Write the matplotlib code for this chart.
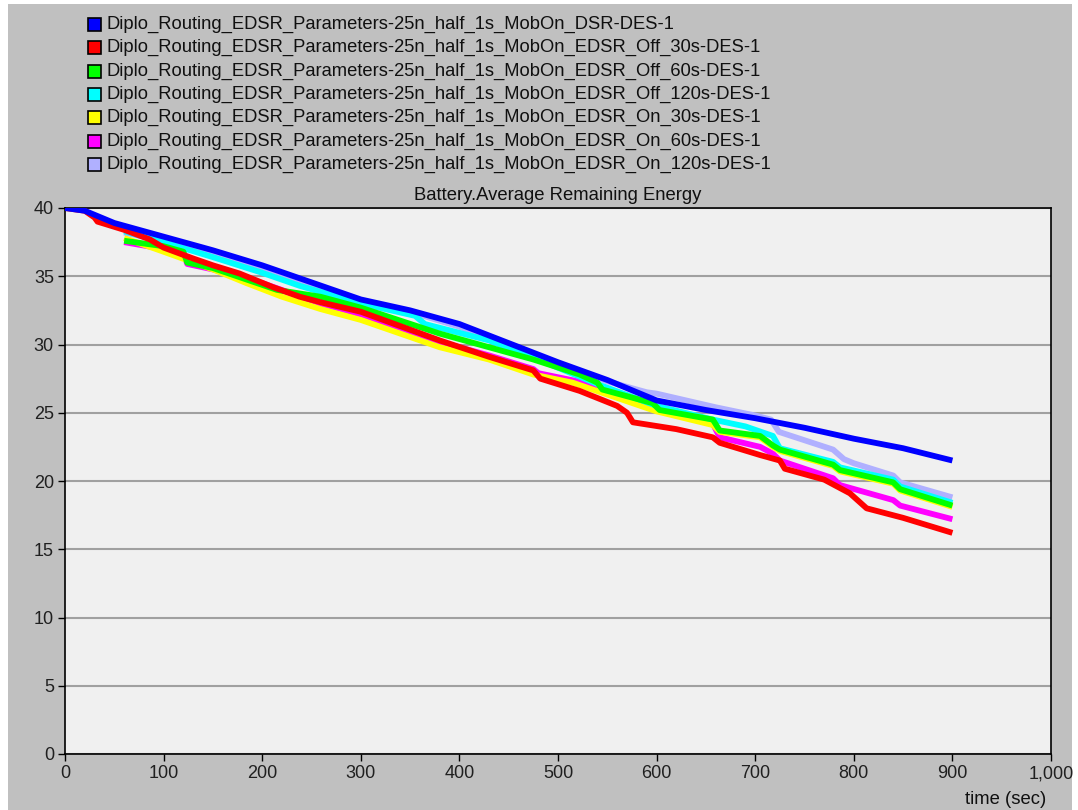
"""Battery average remaining energy, DSR vs. EDSR variants."""

import matplotlib

matplotlib.use("Agg")

import matplotlib.pyplot as plt
from matplotlib.patches import Rectangle
from matplotlib.ticker import FuncFormatter

plt.rcParams["font.family"] = ["Liberation Sans", "DejaVu Sans"]

PREFIX = "Diplo_Routing_EDSR_Parameters-25n_half_1s_MobOn_"

labels = [
    PREFIX + "DSR-DES-1",
    PREFIX + "EDSR_Off_30s-DES-1",
    PREFIX + "EDSR_Off_60s-DES-1",
    PREFIX + "EDSR_Off_120s-DES-1",
    PREFIX + "EDSR_On_30s-DES-1",
    PREFIX + "EDSR_On_60s-DES-1",
    PREFIX + "EDSR_On_120s-DES-1",
]
colors = ["#0000ff", "#ff0000", "#00ff00", "#00ffff", "#ffff00", "#ff00ff", "#b0b0ff"]

# series values (time in sec, energy)
dsr_t = [0, 20, 50, 100, 150, 200, 240, 300, 350, 400, 450, 500, 550, 600, 650, 700, 750, 800, 850, 900]
dsr_e = [40, 39.8, 38.9, 37.9, 36.9, 35.8, 34.8, 33.3, 32.5, 31.5, 30.1, 28.7, 27.4, 25.9, 25.2, 24.6, 23.9, 23.1, 22.4, 21.5]

off30_t = [0, 20, 30, 33, 60, 86, 100, 130, 150, 177, 211, 238, 259, 300, 380, 430, 475, 482, 522, 560, 570, 576,
           620, 657, 664, 705, 725, 730, 770, 796, 813, 850, 900]
off30_e = [40, 39.8, 39.3, 39.0, 38.4, 37.7, 37.1, 36.3, 35.8, 35.2, 34.2, 33.5, 33.1, 32.4, 30.3, 29.1, 28.1, 27.5,
           26.6, 25.5, 25.0, 24.3, 23.8, 23.2, 22.8, 21.9, 21.5, 20.9, 20.1, 19.1, 18.0, 17.3, 16.2]

off60_t = [60, 100, 120, 124, 150, 215, 259, 300, 380, 430, 475, 522, 540, 545, 596, 603, 657, 664, 705, 718, 725,
           779, 786, 840, 847, 900]
off60_e = [37.6, 37.2, 36.8, 36.0, 35.6, 34.0, 33.5, 32.7, 30.8, 29.8, 28.9, 27.8, 27.2, 26.7, 25.7, 25.2, 24.5, 23.7,
           23.3, 22.6, 22.3, 21.2, 20.8, 19.9, 19.4, 18.2]

off120_t = [60, 100, 150, 198, 238, 300, 355, 365, 430, 480, 540, 600, 657, 690, 718, 725, 779, 786, 840, 847, 900]
off120_e = [38.3, 37.5, 36.4, 35.3, 34.3, 33.0, 32.1, 31.5, 30.3, 28.9, 27.1, 25.5, 24.5, 24.0, 23.3, 22.4, 21.4, 21.0,
            20.1, 19.6, 18.4]

on30_t = [60, 96, 150, 184, 220, 259, 300, 380, 430, 475, 515, 600, 657, 664, 705, 718, 725, 779, 786, 840, 847, 900]
on30_e = [37.8, 36.9, 35.5, 34.5, 33.5, 32.6, 31.8, 29.8, 28.9, 27.8, 27.2, 25.1, 24.1, 23.6, 23.2, 22.5, 22.2, 21.1,
          20.7, 19.8, 19.3, 18.1]

on60_t = [60, 100, 120, 124, 150, 200, 259, 300, 380, 430, 475, 480, 540, 560, 600, 657, 664, 705, 718, 725, 779, 786,
          840, 847, 900]
on60_e = [37.5, 37.0, 36.7, 35.9, 35.5, 34.5, 33.0, 32.2, 30.2, 29.2, 28.2, 27.9, 27.0, 26.4, 25.4, 24.2, 23.2, 22.5,
          22.0, 21.5, 20.2, 19.7, 18.6, 18.2, 17.2]

on120_t = [60, 100, 150, 200, 240, 300, 350, 400, 450, 500, 550, 590, 600, 660, 700, 716, 724, 779, 790, 800, 840, 847,
           900]
on120_e = [38.2, 37.6, 36.6, 35.6, 34.6, 33.2, 32.4, 31.3, 30.0, 28.6, 27.3, 26.5, 26.4, 25.4, 24.8, 24.5, 23.6, 22.3,
           21.6, 21.3, 20.4, 19.9, 18.8]

series = [
    (dsr_t, dsr_e),
    (off30_t, off30_e),
    (off60_t, off60_e),
    (off120_t, off120_e),
    (on30_t, on30_e),
    (on60_t, on60_e),
    (on120_t, on120_e),
]
draw_order = [6, 5, 4, 3, 2, 1, 0]

W, H = 1078, 810
fig = plt.figure(figsize=(W / 100, H / 100), dpi=100, facecolor="white")
fig.patches.append(
    Rectangle((8 / W, 0), (1072 - 8) / W, 1 - 4 / H, transform=fig.transFigure, facecolor="#c0c0c0",
              edgecolor="none", zorder=-10)
)

ax = fig.add_axes([65 / W, 1 - 754 / H, (1051 - 65) / W, (754 - 208) / H])
ax.set_facecolor("#f0f0f0")

for idx in draw_order:
    t, e = series[idx]
    ax.plot(t, e, color=colors[idx], linewidth=4.2, solid_capstyle="butt", zorder=3)

ax.set_xlim(0, 1000)
ax.set_ylim(0, 40)
ax.set_xticks(range(0, 1001, 100))
ax.set_yticks(range(0, 41, 5))
ax.xaxis.set_major_formatter(FuncFormatter(lambda v, p: f"{int(v):,}"))
ax.tick_params(direction="out", length=5, width=1, colors="black", labelsize=13, labelcolor="#202020", pad=3)
ax.yaxis.grid(True, color="#a0a0a0", linewidth=1.5, zorder=1)
for s in ax.spines.values():
    s.set_color("black")
    s.set_linewidth(1.2)

fig.text(558 / W, 1 - 195 / H, "Battery.Average Remaining Energy", ha="center", va="center", fontsize=13.3,
         color="#101010")
fig.text(1006 / W, 1 - 800 / H, "time (sec)", ha="center", va="center", fontsize=13.3, color="#101010")

# legend block in the top left of the window
for i, (lab, col) in enumerate(zip(labels, colors)):
    yc = 24.5 + i * 23.3
    fig.patches.append(
        Rectangle((88 / W, 1 - (yc + 6.5) / H), 13 / W, 13 / H, transform=fig.transFigure, facecolor=col,
                  edgecolor="black", linewidth=1.2, zorder=2)
    )
    fig.text(107 / W, 1 - yc / H, lab, ha="left", va="center", fontsize=13.2, color="#101010")

fig.savefig("out.png", dpi=100, facecolor="white")
